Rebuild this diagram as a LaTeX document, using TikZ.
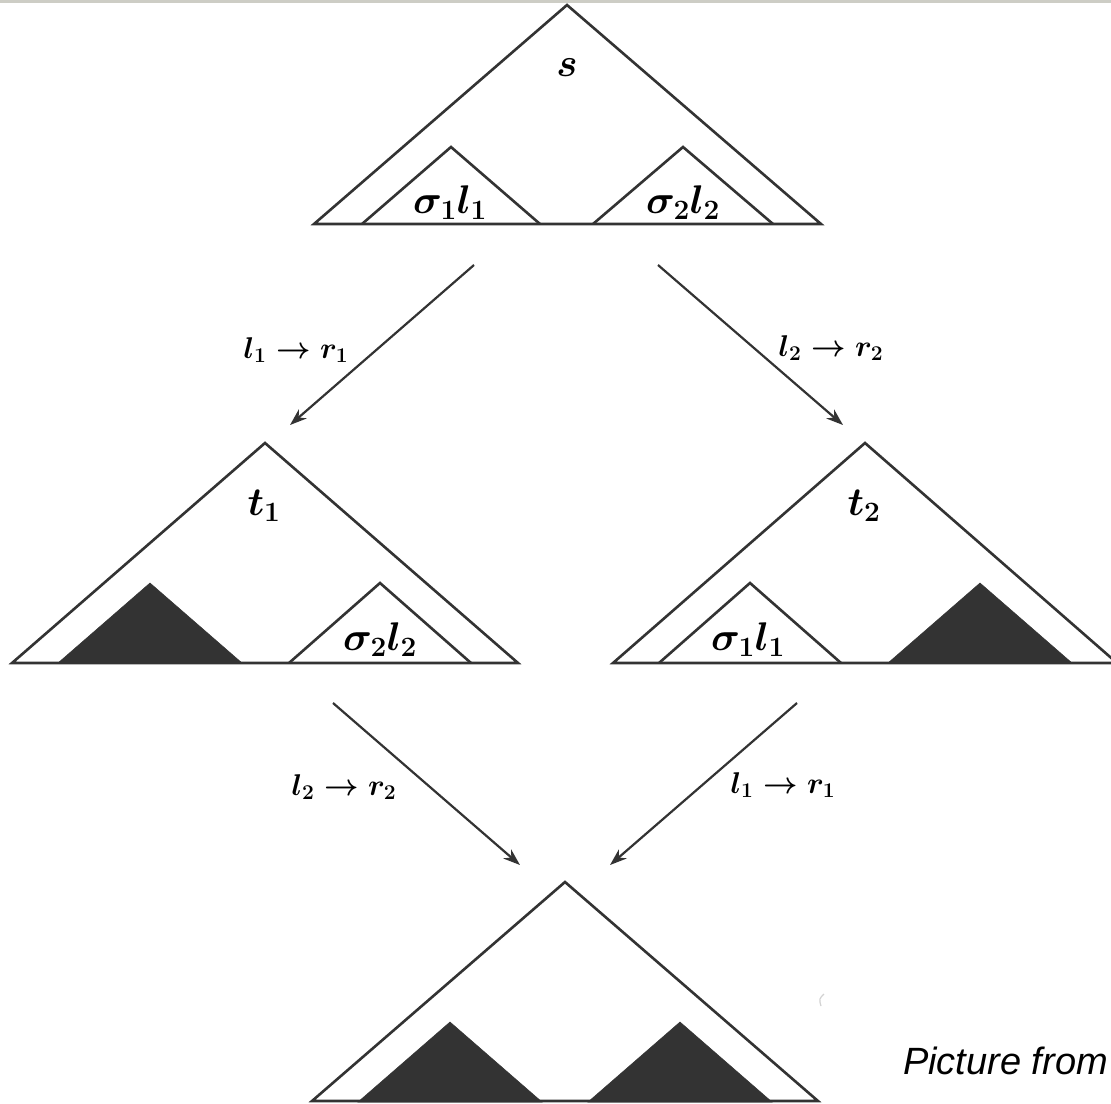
\RequirePackage{fix-cm}
\documentclass[tikz,border=0pt]{standalone}
\usepackage{fontspec}
\newfontfamily\capfont{Liberation Sans}
\usetikzlibrary{arrows.meta}
\definecolor{ink}{HTML}{333333}
\definecolor{fillk}{HTML}{333333}
\definecolor{topbar}{HTML}{CDCDC5}
\tikzset{
  tri/.style={draw=ink, line width=2.6pt, line join=miter, fill=white},
  opentri/.style={draw=ink, line width=2.6pt, line join=miter},
  blk/.style={fill=fillk, draw=fillk, line width=0.5pt},
  rew/.style={draw=ink, line width=2.2pt, -{Stealth[length=17pt,width=12pt]}},
  big/.style={font=\fontsize{40}{44}\selectfont\boldmath, inner sep=0pt, anchor=base},
  rulelab/.style={font=\fontsize{30}{34}\selectfont\boldmath, inner sep=0pt},
  caption/.style={font=\fontsize{38}{42}\selectfont\capfont\itshape, inner sep=0pt, anchor=base west},
}
\begin{document}
\begin{tikzpicture}[x=1pt,y=-1pt]
\useasboundingbox (0,0) rectangle (1111,1103);
\clip (0,0) rectangle (1111,1103);
\fill[white] (0,0) rectangle (1111,1103);
\fill[topbar] (0,0) rectangle (1111,3);

% top tree s
\draw[tri] (314,224) -- (567,5) -- (821,224) -- cycle;
\draw[opentri] (362,224) -- (451,147) -- (540,224);
\draw[opentri] (593,224) -- (683,147) -- (773,224);

% middle left tree t1
\draw[tri] (12,663) -- (265,443) -- (518,663) -- cycle;
\fill[blk] (58,663) -- (150,583) -- (242,663) -- cycle;
\draw[opentri] (289,663) -- (380,583) -- (471,663);

% middle right tree t2
\draw[tri] (613,663) -- (865,443) -- (1117,663) -- cycle;
\draw[opentri] (659,663) -- (750,583) -- (841,663);
\fill[blk] (888,663) -- (980,583) -- (1072,663) -- cycle;

% bottom tree
\draw[tri] (312,1101) -- (565,882) -- (818,1101) -- cycle;
\fill[blk] (358,1102) -- (450,1022) -- (542,1102) -- cycle;
\fill[blk] (588,1102) -- (680,1022) -- (772,1102) -- cycle;

% labels in trees
\node[big] (s) at (567,76) {$s$};
\node[big] (a1) at (450,213) {$\sigma_1 l_1$};
\node[big] (a2) at (683,213) {$\sigma_2 l_2$};
\node[big] (t1) at (264,515) {$t_1$};
\node[big] (t2) at (864,515) {$t_2$};
\node[big] (b2) at (380,650) {$\sigma_2 l_2$};
\node[big] (b1) at (748,650) {$\sigma_1 l_1$};

% rewrite arrows
\coordinate (p1) at (474,265); \coordinate (q1) at (290,425);
\coordinate (p2) at (658,265); \coordinate (q2) at (843,425);
\coordinate (p3) at (333,703); \coordinate (q3) at (520,865);
\coordinate (p4) at (797,703); \coordinate (q4) at (610,865);
\draw[rew] (p1) -- (q1);
\draw[rew] (p2) -- (q2);
\draw[rew] (p3) -- (q3);
\draw[rew] (p4) -- (q4);
\node[rulelab] (r1) at (296,350) {$l_1\rightarrow r_1$};
\node[rulelab] (r2) at (831,348) {$l_2\rightarrow r_2$};
\node[rulelab] (r3) at (344,787) {$l_2\rightarrow r_2$};
\node[rulelab] (r4) at (783,785) {$l_1\rightarrow r_1$};

% stray mark and caption
\draw[gray!35, line width=1.2pt] (824,994) .. controls (819,999) .. (821,1006);
\node[caption] (cap) at (903,1074) {Picture from};
\end{tikzpicture}
\end{document}
